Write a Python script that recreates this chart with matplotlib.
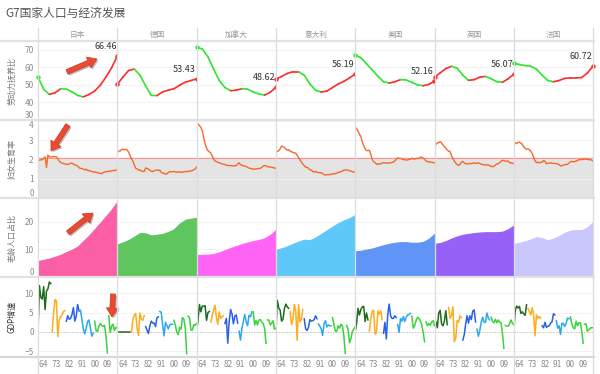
import numpy as np
import matplotlib.pyplot as plt
from matplotlib.patches import FancyArrow
from matplotlib.lines import Line2D

plt.rcParams['font.family'] = ['Noto Sans CJK SC', 'DejaVu Sans']

#-----------------------------------------------------------------------------------
# data

countries = ['日本', '德国', '加拿大', '意大利', '美国', '英国', '法国']
row_titles = ['劳动力抚养比', '妇女生育率', '老龄人口占比', 'GDP增速']

years = list(range(1960, 2017))            # yearly series
years_4 = list(range(1960, 2017, 4))       # smoother series, read every 4 years

# 劳动力抚养比 (every 4 years)
dep_japan   = [54.5, 47.5, 44.6, 45.5, 47.8, 47.6, 46.0, 44.0, 43.2, 44.5, 46.5, 49.8, 54.5, 59.8, 66.46]
dep_germany = [50.3, 54.5, 58.2, 59.0, 55.5, 49.5, 44.0, 43.9, 46.0, 47.0, 47.8, 49.8, 51.5, 52.5, 53.43]
dep_canada  = [71.4, 70.5, 66.0, 59.0, 52.5, 48.5, 46.7, 47.0, 47.8, 47.6, 46.0, 44.8, 44.2, 45.8, 48.62]
dep_italy   = [53.2, 54.8, 56.5, 57.5, 57.5, 55.5, 50.5, 47.0, 45.9, 46.5, 48.5, 50.5, 52.0, 54.0, 56.19]
dep_usa     = [67.0, 65.5, 62.0, 58.5, 55.0, 51.8, 51.0, 51.8, 53.0, 52.8, 51.5, 50.0, 49.5, 50.3, 52.16]
dep_uk      = [54.5, 56.8, 59.3, 60.6, 59.5, 55.5, 52.6, 53.0, 54.4, 54.8, 53.5, 51.8, 51.5, 53.5, 56.07]
dep_france  = [62.3, 61.6, 61.0, 60.6, 59.0, 55.5, 52.5, 51.8, 52.5, 53.7, 54.0, 54.0, 54.2, 56.8, 60.72]

# 妇女生育率 (yearly)
tfr_japan = [2.00, 1.96, 1.98, 2.00, 2.05, 2.14, 1.58, 2.23, 2.13, 2.13, 2.13, 2.16, 2.14, 2.14, 2.05,
             1.91, 1.85, 1.80, 1.79, 1.77, 1.75, 1.74, 1.77, 1.80, 1.81, 1.76, 1.72, 1.69, 1.66, 1.57,
             1.54, 1.53, 1.50, 1.46, 1.50, 1.42, 1.43, 1.39, 1.38, 1.34, 1.36, 1.33, 1.32, 1.29, 1.29,
             1.26, 1.32, 1.34, 1.37, 1.37, 1.39, 1.39, 1.41, 1.43, 1.42, 1.45, 1.44]
tfr_germany = [2.37, 2.44, 2.44, 2.51, 2.54, 2.50, 2.53, 2.49, 2.38, 2.21, 2.03, 1.92, 1.72, 1.54, 1.51,
               1.45, 1.46, 1.40, 1.38, 1.38, 1.56, 1.53, 1.51, 1.43, 1.39, 1.37, 1.41, 1.43, 1.46, 1.42,
               1.45, 1.33, 1.29, 1.28, 1.24, 1.25, 1.32, 1.37, 1.36, 1.36, 1.38, 1.35, 1.34, 1.34, 1.36,
               1.34, 1.33, 1.37, 1.38, 1.36, 1.39, 1.39, 1.41, 1.42, 1.47, 1.50, 1.60]
tfr_canada = [3.90, 3.84, 3.76, 3.67, 3.50, 3.15, 2.81, 2.60, 2.45, 2.40, 2.33, 2.19, 2.02, 1.93, 1.88,
              1.85, 1.83, 1.80, 1.76, 1.76, 1.74, 1.70, 1.69, 1.68, 1.69, 1.67, 1.67, 1.67, 1.68, 1.77,
              1.83, 1.72, 1.71, 1.66, 1.66, 1.64, 1.59, 1.55, 1.54, 1.51, 1.49, 1.51, 1.50, 1.53, 1.53,
              1.54, 1.59, 1.66, 1.68, 1.68, 1.63, 1.61, 1.61, 1.59, 1.58, 1.56, 1.54]
tfr_italy = [2.37, 2.41, 2.46, 2.55, 2.70, 2.66, 2.63, 2.54, 2.49, 2.51, 2.43, 2.41, 2.36, 2.34, 2.33,
             2.21, 2.11, 1.98, 1.87, 1.76, 1.68, 1.60, 1.60, 1.54, 1.46, 1.45, 1.37, 1.35, 1.38, 1.33,
             1.33, 1.31, 1.31, 1.26, 1.22, 1.19, 1.21, 1.22, 1.21, 1.23, 1.26, 1.25, 1.27, 1.29, 1.34,
             1.34, 1.37, 1.40, 1.45, 1.45, 1.46, 1.44, 1.43, 1.39, 1.37, 1.35, 1.34]
tfr_usa = [3.65, 3.62, 3.46, 3.32, 3.19, 2.91, 2.72, 2.56, 2.46, 2.46, 2.48, 2.27, 2.01, 1.88, 1.84,
           1.77, 1.74, 1.79, 1.76, 1.81, 1.84, 1.81, 1.83, 1.80, 1.81, 1.84, 1.84, 1.87, 1.93, 2.01,
           2.08, 2.06, 2.05, 2.02, 2.00, 1.98, 1.98, 1.97, 2.00, 2.01, 2.06, 2.03, 2.02, 2.05, 2.05,
           2.06, 2.11, 2.12, 2.07, 2.00, 1.93, 1.89, 1.88, 1.86, 1.86, 1.84, 1.82]
tfr_uk = [2.69, 2.78, 2.86, 2.88, 2.93, 2.86, 2.75, 2.66, 2.59, 2.49, 2.43, 2.41, 2.20, 2.04, 1.92,
          1.81, 1.74, 1.69, 1.75, 1.86, 1.90, 1.82, 1.78, 1.77, 1.77, 1.80, 1.78, 1.81, 1.82, 1.79,
          1.83, 1.82, 1.79, 1.76, 1.74, 1.71, 1.73, 1.72, 1.71, 1.68, 1.64, 1.63, 1.64, 1.71, 1.77,
          1.78, 1.84, 1.90, 1.96, 1.94, 1.92, 1.91, 1.92, 1.83, 1.83, 1.80, 1.79]
tfr_france = [2.85, 2.87, 2.82, 2.89, 2.90, 2.85, 2.79, 2.66, 2.58, 2.53, 2.55, 2.52, 2.42, 2.31, 2.11,
              1.93, 1.83, 1.86, 1.82, 1.86, 1.85, 1.95, 1.91, 1.78, 1.80, 1.81, 1.83, 1.80, 1.80, 1.79,
              1.78, 1.77, 1.73, 1.66, 1.68, 1.71, 1.73, 1.73, 1.76, 1.81, 1.89, 1.90, 1.88, 1.89, 1.92,
              1.94, 2.00, 1.98, 2.01, 2.00, 2.03, 2.01, 2.01, 1.99, 2.00, 1.96, 1.92]
replacement_rate = 2.1

# 老龄人口占比 (every 4 years)
old_japan   = [5.8, 6.2, 6.7, 7.3, 8.0, 9.0, 9.9, 11.0, 13.0, 15.0, 17.3, 19.6, 22.0, 24.4, 27.3]
old_germany = [11.8, 12.5, 13.4, 14.6, 15.9, 15.8, 15.0, 15.3, 15.6, 16.3, 17.3, 19.3, 20.7, 21.1, 21.4]
old_canada  = [8.0, 8.0, 8.1, 8.3, 8.9, 9.7, 10.5, 11.2, 11.9, 12.5, 13.0, 13.4, 14.0, 15.2, 17.0]
old_italy   = [9.8, 10.4, 11.1, 12.0, 12.8, 13.5, 13.3, 14.3, 15.6, 16.9, 18.2, 19.5, 20.5, 21.3, 22.5]
old_usa     = [9.3, 9.5, 9.9, 10.3, 10.9, 11.5, 12.0, 12.4, 12.6, 12.6, 12.4, 12.4, 12.7, 13.8, 15.6]
old_uk      = [12.0, 12.3, 13.0, 13.9, 14.7, 15.3, 15.6, 15.9, 16.1, 16.2, 16.2, 16.2, 16.4, 17.3, 18.6]
old_france  = [12.0, 12.4, 12.9, 13.6, 14.4, 14.0, 13.3, 13.9, 14.8, 16.0, 16.8, 17.0, 17.0, 18.0, 19.8]

# GDP增速 (yearly, missing years shown as 0)
gdp_japan = [0, 12.0, 8.9, 8.5, 11.7, 5.8, 10.6, 11.1, 12.9, 12.5,
             0, 4.7, 8.4, 8.0, -1.2, 3.1, 4.0, 4.4, 5.3, 5.5,
             2.8, 4.2, 3.3, 3.5, 4.5, 6.3, 2.8, 4.1, 7.1, 5.4,
             5.6, 3.3, 0.8, -0.5, 1.0, 2.7, 3.1, 1.1, -1.1, -0.3,
             2.8, 0.4, 0.1, 1.5, 2.2, 1.7, 1.4, 1.7, -1.1, -5.4,
             4.2, -0.1, 1.5, 2.0, 0.4, 1.2, 1.0]
gdp_germany = [0, 0, 0, 0, 0, 0, 0, 0, 0, 0,
               0, 3.1, 4.3, 4.8, 0.9, -0.9, 4.9, 3.3, 3.0, 4.2,
               1.4, 0.5, -0.4, 1.6, 2.8, 2.3, 2.3, 1.4, 3.7, 3.9,
               5.3, 5.1, 1.9, -1.0, 2.5, 1.7, 0.8, 1.8, 2.0, 2.0,
               3.0, 1.7, 0.0, -0.7, 1.2, 0.7, 3.7, 3.3, 1.1, -5.6,
               4.1, 3.7, 0.5, 0.5, 1.9, 1.7, 2.2]
gdp_canada = [0, 3.1, 7.1, 5.2, 6.7, 6.6, 6.8, 3.0, 5.0, 5.3,
              2.6, 4.1, 5.7, 6.9, 3.6, 2.0, 5.2, 3.5, 4.0, 4.2,
              2.2, 3.5, -2.9, 2.7, 5.8, 4.7, 2.1, 4.1, 4.4, 2.3,
              0.2, -2.1, 0.9, 2.7, 4.5, 2.7, 1.6, 4.3, 3.9, 5.2,
              5.2, 1.8, 3.0, 1.8, 3.1, 3.2, 2.6, 2.1, 1.0, -2.9,
              3.1, 3.1, 1.8, 2.3, 2.9, 0.7, 1.0]
gdp_italy = [0, 8.2, 6.2, 5.6, 2.8, 3.3, 6.0, 7.2, 6.5, 6.1,
             5.3, 1.9, 3.2, 7.1, 5.5, -2.1, 7.1, 2.6, 3.2, 5.8,
             3.4, 0.8, 0.4, 1.2, 3.2, 2.8, 2.9, 3.2, 4.2, 3.4,
             2.1, 1.5, 0.8, -0.9, 2.2, 2.9, 1.3, 1.8, 1.6, 1.6,
             3.7, 1.9, 0.2, 0.2, 1.6, 1.0, 2.0, 1.5, -1.0, -5.5,
             1.7, 0.6, -2.8, -1.7, 0.1, 0.8, 1.3]
gdp_usa = [0, 2.3, 6.1, 4.4, 5.8, 6.5, 6.6, 2.7, 4.9, 3.1,
           0.2, 3.3, 5.3, 5.6, -0.5, -0.2, 5.4, 4.6, 5.5, 3.2,
           -0.3, 2.5, -1.8, 4.6, 7.2, 4.2, 3.5, 3.5, 4.2, 3.7,
           1.9, -0.1, 3.5, 2.8, 4.0, 2.7, 3.8, 4.4, 4.5, 4.8,
           4.1, 1.0, 1.7, 2.9, 3.8, 3.5, 2.9, 1.9, -0.1, -2.5,
           2.6, 1.6, 2.2, 1.7, 2.6, 2.9, 1.6]
gdp_uk = [0, 2.7, 1.1, 4.9, 5.6, 2.1, 1.6, 2.8, 5.5, 1.9,
          6.3, 3.5, 4.3, 6.5, -2.5, -1.5, 3.0, 2.5, 4.2, 3.7,
          -2.1, -0.7, 2.0, 4.2, 2.3, 4.2, 3.2, 5.4, 5.7, 2.6,
          0.7, -1.1, 0.4, 2.5, 3.8, 2.5, 2.5, 4.9, 3.6, 3.1,
          3.8, 2.7, 2.4, 3.3, 2.4, 3.1, 2.5, 2.4, -0.5, -4.2,
          1.7, 1.5, 1.5, 2.1, 3.1, 2.3, 1.9]
gdp_france = [0, 5.5, 6.7, 6.2, 6.6, 4.8, 5.2, 4.7, 4.3, 7.0,
              6.1, 5.3, 4.4, 6.3, 4.3, -1.0, 4.4, 3.5, 4.0, 3.6,
              1.6, 1.1, 2.5, 1.2, 1.5, 1.6, 2.3, 2.6, 4.7, 4.4,
              2.9, 1.0, 1.6, -0.6, 2.3, 2.1, 1.4, 2.3, 3.6, 3.4,
              3.9, 2.0, 1.1, 0.8, 2.8, 1.6, 2.4, 2.4, 0.2, -2.9,
              2.0, 2.1, 0.2, 0.6, 1.0, 1.1, 1.1]

dep_all = [dep_japan, dep_germany, dep_canada, dep_italy, dep_usa, dep_uk, dep_france]
tfr_all = [tfr_japan, tfr_germany, tfr_canada, tfr_italy, tfr_usa, tfr_uk, tfr_france]
old_all = [old_japan, old_germany, old_canada, old_italy, old_usa, old_uk, old_france]
gdp_all = [gdp_japan, gdp_germany, gdp_canada, gdp_italy, gdp_usa, gdp_uk, gdp_france]

#-----------------------------------------------------------------------------------
# styles

area_colors = ['#fb5fa6', '#5fc65f', '#ff64f6', '#5ec8f9', '#6094f6', '#9561f6', '#cac7fd']
decades = [1960, 1970, 1980, 1990, 2000, 2010]
decade_colors = ['#1e6b1e', '#ffac1e', '#2762e6', '#2ba8f2', '#3bd23b', '#3bd23b']
up_color, down_color = '#ff2b2b', '#2fe62f'
fert_color = '#f5692a'
tick_color = '#8c8c8c'
sep_color = '#dcdcdc'

W, H = 600, 374
left0, colw = 38, 79.3
row_top = [41, 120, 198, 277]
row_bot = [120, 198, 277, 356]
ylims = [(30, 75), (0, 4.05), (0, 28.6), (-6.2, 14.2)]
yticks = [[30, 40, 50, 60, 70], [0, 1, 2, 3, 4], [0, 10, 20], [-5, 0, 5, 10]]
xtick_pos = [1964, 1973, 1982, 1991, 2000, 2009]
xtick_lab = ['64', '73', '82', '91', '00', '09']

fig = plt.figure(figsize=(W / 100, H / 100), dpi=100)

for c in range(len(countries)):
    for r in range(4):
        x0 = left0 + c * colw
        ax = fig.add_axes([x0 / W, 1 - row_bot[r] / H, colw / W, (row_bot[r] - row_top[r]) / H])
        ax.set_xlim(1960, 2016)
        ax.set_ylim(*ylims[r])
        for s in ax.spines.values():
            s.set_visible(False)
        ax.set_yticks(yticks[r])
        ax.yaxis.grid(True, color='#f0f0f0', lw=0.6)
        ax.set_axisbelow(True)
        ax.tick_params(axis='both', length=0, labelsize=6, labelcolor=tick_color, pad=3)

        if r == 0:
            v = dep_all[c]
            for i in range(len(v) - 1):
                col = up_color if v[i + 1] >= v[i] else down_color
                ax.plot(years_4[i:i + 2], v[i:i + 2], color=col, lw=1.2, solid_capstyle='round')
            col0 = up_color if v[1] >= v[0] else down_color
            col1 = up_color if v[-1] >= v[-2] else down_color
            ax.plot(years_4[0], v[0], 'o', ms=2.2, color=col0, clip_on=False)
            ax.plot(years_4[-1], v[-1], 'o', ms=2.2, color=col1, clip_on=False)
            ax.annotate('%.2f' % v[-1], (years_4[-1], v[-1]), xytext=(-0.5, 3.5),
                        textcoords='offset points', ha='right', va='bottom',
                        fontsize=6.5, color='#333333', annotation_clip=False)
        elif r == 1:
            ax.axhspan(-1, replacement_rate, color='#e4e4e4', lw=0, zorder=0)
            ax.axhline(replacement_rate, color='#f29a9a', lw=1.0, zorder=1)
            ax.plot(years, tfr_all[c], color=fert_color, lw=1.0, zorder=2)
        elif r == 2:
            ax.fill_between(years_4, old_all[c], 0, color=area_colors[c], lw=0.8,
                            edgecolor=area_colors[c])
        else:
            ax.axhline(0, color='#bdbdbd', lw=0.7, ls=':', zorder=1)
            g = np.array(gdp_all[c])
            yr = np.array(years)
            for d, col in zip(decades, decade_colors):
                m = (yr >= d) & (yr < d + 10)
                ax.plot(yr[m], g[m], color=col, lw=1.1, zorder=2)

        if c == 0:
            labs = ax.get_yticklabels()
            for t, val in zip(labs, yticks[r]):
                if val == ylims[r][0] or abs(val - ylims[r][0]) < 0.1:
                    t.set_va('bottom')
                elif abs(val - ylims[r][1]) < 0.1:
                    t.set_va('top')
        else:
            ax.set_yticklabels([])
        if r == 3:
            ax.set_xticks(xtick_pos)
            ax.set_xticklabels(xtick_lab)
        else:
            ax.set_xticks([])

#-----------------------------------------------------------------------------------
# overlay: title, headers, separators, arrows

ov = fig.add_axes([0, 0, 1, 1], zorder=10)
ov.set_xlim(0, W)
ov.set_ylim(H, 0)
ov.axis('off')
ov.patch.set_alpha(0)

ov.text(5, 13, 'G7国家人口与经济发展', fontsize=8.5, color='#555555', va='center', ha='left')

for c, name in enumerate(countries):
    ov.text(left0 + (c + 0.5) * colw, 34.5, name, fontsize=5.5, color='#9a9a9a',
            ha='center', va='center')

for r, t in enumerate(row_titles):
    ov.text(12, (row_top[r] + row_bot[r]) / 2, t, rotation=90, fontsize=5.8,
            color='#333333' if r == 3 else '#7a7a7a', ha='center', va='center')

for y in [41] + row_bot[:3]:
    ov.add_line(Line2D([0, 594], [y, y], color='#e2e2e2', lw=1.6))
ov.add_line(Line2D([0, 594], [357, 357], color='#d8d8d8', lw=1.6))
for c in range(len(countries) + 1):
    x = left0 + c * colw
    ov.add_line(Line2D([x, x], [28, H], color=sep_color, lw=0.9))

arrows = [((67, 72), (97, 59)), ((68, 125), (51, 151)), ((68, 233), (93, 213)), ((113, 294), (112, 317))]
for (x1, y1), (x2, y2) in arrows:
    dx, dy = x2 - x1, y2 - y1
    ov.add_patch(FancyArrow(x1 + 1.5, y1 + 1.5, dx, dy, width=5, head_width=12, head_length=9,
                            length_includes_head=True, color='#000000', alpha=0.25, lw=0))
    ov.add_patch(FancyArrow(x1, y1, dx, dy, width=5, head_width=12, head_length=9,
                            length_includes_head=True, fc='#ea4b30', ec='#c63a22', lw=0.5))

plt.savefig('out.png', dpi=100)
